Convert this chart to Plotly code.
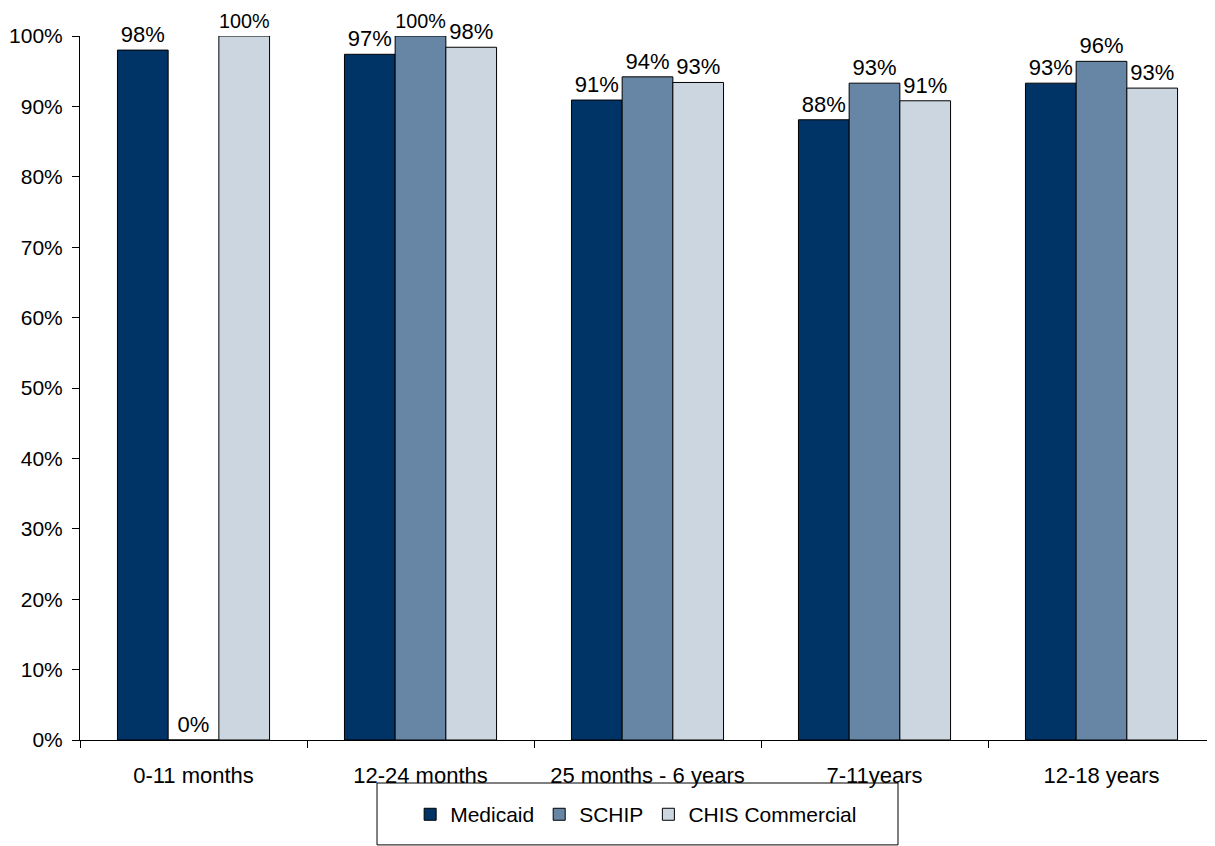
import plotly.graph_objects as go

categories = ["0-11 months", "12-24 months", "25 months - 6 years", "7-11years", "12-18 years"]
medicaid = [0.980, 0.974, 0.909, 0.881, 0.933]
schip = [0.0, 1.000, 0.942, 0.933, 0.964]
chis = [1.000, 0.984, 0.934, 0.908, 0.926]

series = [
    ("Medicaid", medicaid, "#003366"),
    ("SCHIP", schip, "#6786A6"),
    ("CHIS Commercial", chis, "#CCD6E0"),
]

font = "Liberation Sans, Arial, sans-serif"
fig = go.Figure()
for name, vals, color in series:
    fig.add_trace(go.Bar(
        name=name, x=categories, y=vals,
        marker=dict(color=color, line=dict(color="#000000", width=1)),
        texttemplate="%{y:.0%}", textposition="outside",
        textfont=dict(size=22, color="#000000", family=font),
        cliponaxis=False,
    ))

# legend frame
fig.add_shape(type="rect", xref="paper", yref="paper",
              x0=0.2617, x1=0.7207, y0=-0.149, y1=-0.0611,
              line=dict(color="#000000", width=1), fillcolor="rgba(0,0,0,0)")

fig.update_layout(
    width=1215, height=846,
    margin=dict(l=72, r=8, t=28, b=114),
    paper_bgcolor="white", plot_bgcolor="white",
    barmode="group", bargap=0.33, bargroupgap=0,
    font=dict(family=font, size=22, color="#000000"),
    showlegend=True,
    legend=dict(orientation="h", x=0.49, xanchor="center", y=-0.106, yanchor="middle",
                borderwidth=0, bgcolor="rgba(0,0,0,0)",
                font=dict(size=21), itemwidth=30, traceorder="normal"),
    xaxis=dict(showline=True, linecolor="#000000", linewidth=1, automargin=False,
               ticks="outside", tickson="boundaries", ticklen=7, tickcolor="#000000",
               showgrid=False, tickfont=dict(size=22), ticklabelstandoff=16),
    yaxis=dict(range=[0, 1.0], dtick=0.1, tickformat=".0%", showline=True, automargin=False,
               linecolor="#000000", linewidth=1, ticks="outside", ticklen=7,
               tickcolor="#000000", showgrid=False, zeroline=False,
               tickfont=dict(size=21), ticklabelstandoff=5),
)

fig.write_html("out.html")
